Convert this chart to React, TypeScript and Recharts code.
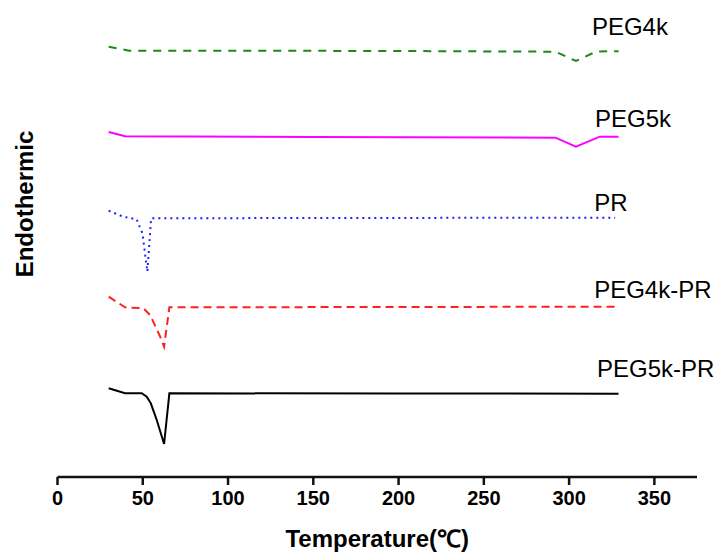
import React from 'react';
import { LineChart, Line, XAxis, YAxis, ReferenceDot, Label } from 'recharts';

// Temperatures (°C) and offset heat-flow values (arbitrary units) per curve
const peg4kT = [30, 42, 100, 200, 292, 304, 316, 329];
const peg4kV = [430.3, 426.3, 426.3, 426, 425.3, 416, 425.5, 425.8];

const peg5kT = [30, 39.6, 150, 292, 304, 318, 329];
const peg5kV = [345, 340.7, 340, 339.3, 330.3, 340.3, 340.3];

const prT = [30, 38.5, 46.4, 49.8, 51.3, 52.7, 54.9, 150, 327];
const prV = [266.3, 260.3, 257.7, 243.7, 223.7, 205.3, 258.7, 259, 259.3];

const peg4kPrT = [30, 39.6, 50.4, 54.3, 60.2, 62.5, 65.6, 200, 327];
const peg4kPrV = [180.3, 169.7, 168.7, 162, 140.3, 130.3, 169.7, 170, 170.3];

const peg5kPrT = [30, 39.6, 49.4, 52.3, 54.7, 58.2, 62.5, 65.6, 200, 329];
const peg5kPrV = [88.7, 83.7, 83.7, 80.3, 73.7, 57, 33, 83.7, 83.5, 83.3];

const xTicks = [0, 50, 100, 150, 200, 250, 300, 350];

const curveNames = ['PEG4k', 'PEG5k', 'PR', 'PEG4k-PR', 'PEG5k-PR'];
const labelT = [313.4, 315.2, 314.7, 314.7, 316.4];
const labelV = [450.5, 359, 275, 188, 108.5];

const zip = (t: number[], v: number[]) => t.map((x, i) => ({ t: x, v: v[i] }));

const series = [
  { name: curveNames[0], data: zip(peg4kT, peg4kV), stroke: '#1a8a1a', dash: '8 7' },
  { name: curveNames[1], data: zip(peg5kT, peg5kV), stroke: '#ff00ff', dash: undefined },
  { name: curveNames[2], data: zip(prT, prV), stroke: '#2020ff', dash: '2 4' },
  { name: curveNames[3], data: zip(peg4kPrT, peg4kPrV), stroke: '#ff2020', dash: '8 5' },
  { name: curveNames[4], data: zip(peg5kPrT, peg5kPrV), stroke: '#000000', dash: undefined },
];

const YLabel = (props: any) => {
  const vb = props.viewBox || {};
  const cx = (vb.x || 0) + 24;
  const cy = 204;
  return (
    <text
      x={cx}
      y={cy}
      transform={`rotate(-90 ${cx} ${cy})`}
      textAnchor="middle"
      dominantBaseline="central"
      fontSize={24}
      fontWeight="bold"
      fill="#000"
    >
      Endothermic
    </text>
  );
};

export default function App() {
  return (
    <div style={{ position: 'absolute', left: 0, top: 0, background: '#fff' }}>
      <LineChart
        width={717}
        height={552}
        margin={{ top: 20, right: 20, bottom: 0, left: 0 }}
        style={{ fontFamily: '"Liberation Sans", Arial, sans-serif' }}
      >
        <XAxis
          type="number"
          dataKey="t"
          domain={[0, 375]}
          ticks={xTicks}
          allowDataOverflow
          height={75}
          tickSize={8}
          tickMargin={6}
          axisLine={{ stroke: '#111', strokeWidth: 2.5 }}
          tickLine={{ stroke: '#111', strokeWidth: 2.5 }}
          tick={{ fill: '#000', fontSize: 20, fontWeight: 'bold' }}
        >
          <Label
            value="Temperature(℃)"
            position="insideBottom"
            offset={5}
            fill="#000"
            fontSize={24}
            fontWeight="bold"
          />
        </XAxis>
        <YAxis
          type="number"
          domain={[0, 457]}
          width={57.5}
          axisLine={false}
          tickLine={false}
          tick={false}
        >
          <Label content={<YLabel />} />
        </YAxis>
        {series.map((s) => (
          <Line
            key={s.name}
            data={s.data}
            dataKey="v"
            type="linear"
            stroke={s.stroke}
            strokeWidth={2}
            strokeDasharray={s.dash}
            dot={false}
            activeDot={false}
            isAnimationActive={false}
          />
        ))}
        {curveNames.map((n, i) => (
          <ReferenceDot
            key={n}
            x={labelT[i]}
            y={labelV[i]}
            r={0}
            ifOverflow="visible"
            stroke="none"
            fill="none"
            label={{ value: n, position: 'right', offset: 0, fill: '#000', fontSize: 24 }}
          />
        ))}
      </LineChart>
    </div>
  );
}
